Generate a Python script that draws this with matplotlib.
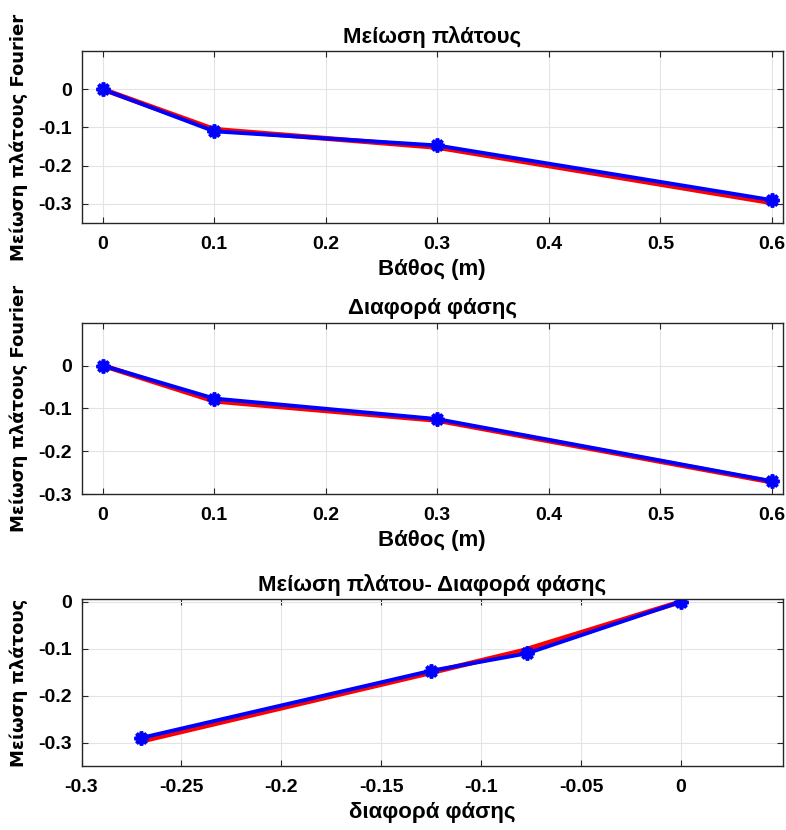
import numpy as np
import matplotlib
matplotlib.use("Agg")
import matplotlib.pyplot as plt

# data
depth = [0, 0.1, 0.3, 0.6]
amp_meas = [0, -0.110, -0.147, -0.290]
amp_fit = [0, -0.105, -0.152, -0.297]
phase_meas = [0, -0.077, -0.125, -0.270]
phase_fit = [0, -0.083, -0.128, -0.272]
phase_x_fit = [0, -0.080, -0.126, -0.270]

xticks_depth = [0, 0.1, 0.2, 0.3, 0.4, 0.5, 0.6]
xlabels_depth = ['0', '0.1', '0.2', '0.3', '0.4', '0.5', '0.6']
yticks = [0, -0.1, -0.2, -0.3]
ylabels = ['0', '-0.1', '-0.2', '-0.3']
xticks_phase = [-0.3, -0.25, -0.2, -0.15, -0.1, -0.05, 0]
xlabels_phase = ['-0.3', '-0.25', '-0.2', '-0.15', '-0.1', '-0.05', '0']

plt.rcParams['axes.unicode_minus'] = False
plt.rcParams['font.family'] = ['Liberation Sans', 'DejaVu Sans']
plt.rcParams['font.weight'] = 'bold'

fig = plt.figure(figsize=(7.86, 8.3), dpi=100)

positions = [
    [0.1037, 0.7313, 0.8925, 0.2072],
    [0.1037, 0.4048, 0.8925, 0.2064],
    [0.1037, 0.0771, 0.8925, 0.2008],
]

asterisk = (8, 2, 0)


def style_axis(ax):
    ax.grid(True, color='#e3e3e3', linewidth=0.8)
    ax.set_axisbelow(True)
    ax.tick_params(direction='in', top=True, right=True, length=4,
                   width=0.8, color='#262626', labelsize=14)
    ax.tick_params(axis='x', pad=9)
    ax.tick_params(axis='y', pad=7)
    for s in ax.spines.values():
        s.set_color('#262626')
        s.set_linewidth(1.0)
    for lab in ax.get_xticklabels() + ax.get_yticklabels():
        lab.set_fontweight('bold')


def draw(ax, x_fit, y_fit, x_meas, y_meas):
    ax.plot(x_fit, y_fit, color='red', linewidth=3.6, solid_joinstyle='round')
    ax.plot(x_meas, y_meas, color='blue', linewidth=2.8, marker=asterisk,
            markersize=10, markeredgewidth=2.6)


ylabel_font = dict(family='DejaVu Sans', fontsize=13, fontweight='bold')
text_font = dict(fontsize=16, fontweight='bold')

ax1 = fig.add_axes(positions[0])
draw(ax1, depth, amp_fit, depth, amp_meas)
ax1.set_xlim(-0.019, 0.61)
ax1.set_ylim(-0.35, 0.1)
ax1.set_xticks(xticks_depth)
ax1.set_xticklabels(xlabels_depth)
ax1.set_yticks(yticks)
ax1.set_yticklabels(ylabels)
ax1.set_title('Μείωση πλάτους', pad=6, **text_font)
ax1.set_xlabel('Βάθος (m)', labelpad=5, **text_font)
ax1.set_ylabel('Μείωση πλάτους Fourier', **ylabel_font)
ax1.yaxis.set_label_coords(-0.076, 0.5)
style_axis(ax1)

ax2 = fig.add_axes(positions[1])
draw(ax2, depth, phase_fit, depth, phase_meas)
ax2.set_xlim(-0.019, 0.61)
ax2.set_ylim(-0.3, 0.1)
ax2.set_xticks(xticks_depth)
ax2.set_xticklabels(xlabels_depth)
ax2.set_yticks(yticks)
ax2.set_yticklabels(ylabels)
ax2.set_title('Διαφορά φάσης', pad=6, **text_font)
ax2.set_xlabel('Βάθος (m)', labelpad=5, **text_font)
ax2.set_ylabel('Μείωση πλάτους Fourier', **ylabel_font)
ax2.yaxis.set_label_coords(-0.076, 0.5)
style_axis(ax2)

ax3 = fig.add_axes(positions[2])
draw(ax3, phase_x_fit, amp_fit, phase_meas, amp_meas)
ax3.set_xlim(-0.3, 0.051)
ax3.set_ylim(-0.35, 0.005)
ax3.set_xticks(xticks_phase)
ax3.set_xticklabels(xlabels_phase)
ax3.set_yticks(yticks)
ax3.set_yticklabels(ylabels)
ax3.set_title('Μείωση πλάτου- Διαφορά φάσης', pad=6, **text_font)
ax3.set_xlabel('διαφορά φάσης', labelpad=5, **text_font)
ax3.set_ylabel('Μείωση πλάτους', **ylabel_font)
ax3.yaxis.set_label_coords(-0.076, 0.5)
style_axis(ax3)

fig.savefig('out.png', dpi=100)
